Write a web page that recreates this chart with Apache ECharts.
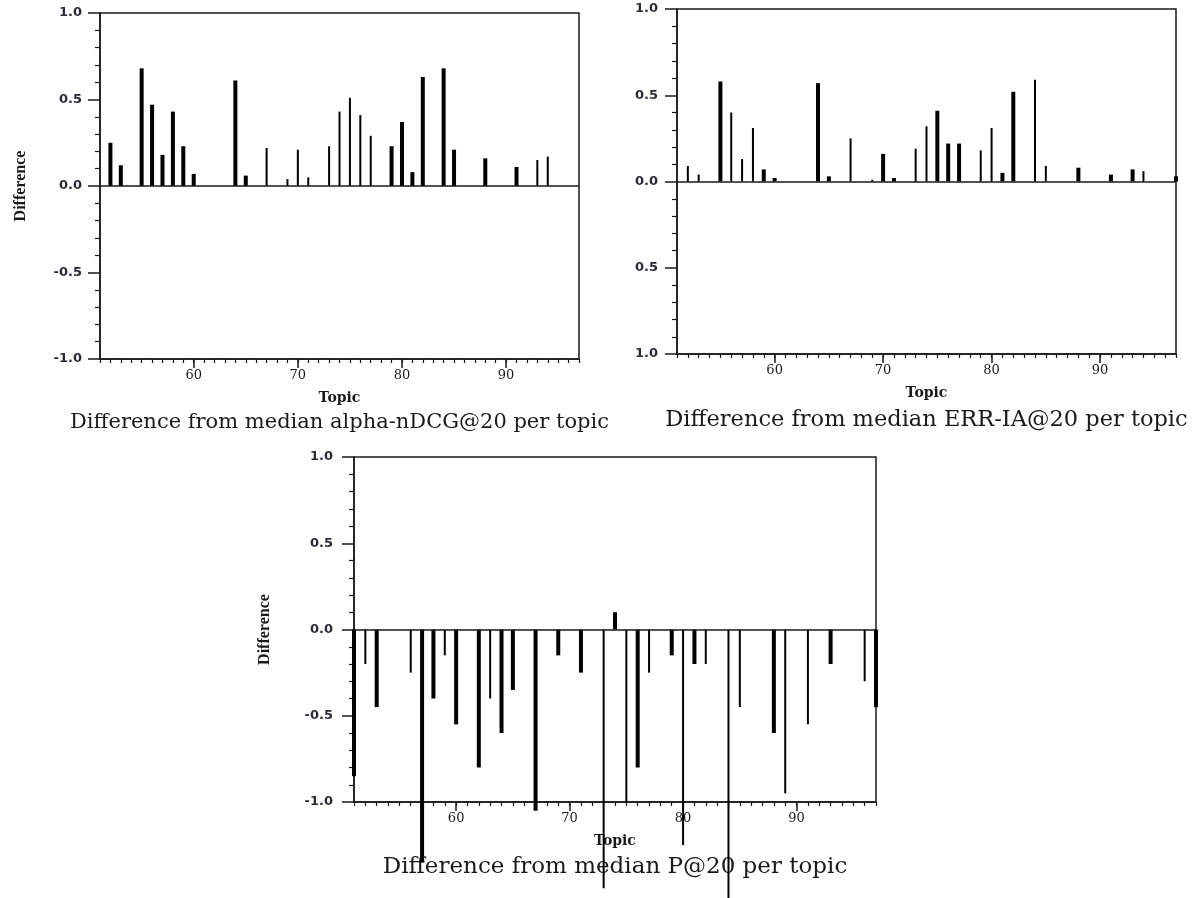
<!DOCTYPE html>
<html>
<head>
<meta charset="utf-8">
<title>Difference from median per topic</title>
<script src="https://cdn.jsdelivr.net/npm/echarts@6/dist/echarts.min.js"></script>
<style>
  html, body { margin: 0; padding: 0; background: #fff; }
  #chart { width: 1196px; height: 898px; }
</style>
</head>
<body>
<div id="chart"></div>
<script>
// Topic axis ticks
const topicMin = 51;
const topicMax = 97;
const majorTopicTicks = [60, 70, 80, 90];

// alpha-nDCG@20: difference from median per topic (two bar groups)
const alphaTopicsA = [52, 53, 55, 56, 57, 58, 59, 60, 64, 65, 79, 80, 81, 82, 84, 85, 88, 91];
const alphaDiffA   = [0.25, 0.12, 0.68, 0.47, 0.18, 0.43, 0.23, 0.07, 0.61, 0.06, 0.23, 0.37, 0.08, 0.63, 0.68, 0.21, 0.16, 0.11];
const alphaTopicsB = [67, 69, 70, 71, 73, 74, 75, 76, 77, 93, 94];
const alphaDiffB   = [0.22, 0.04, 0.21, 0.05, 0.23, 0.43, 0.51, 0.41, 0.29, 0.15, 0.17];

// ERR-IA@20: difference from median per topic
const errTopicsA = [55, 59, 60, 64, 65, 70, 71, 75, 76, 77, 81, 82, 88, 91, 93, 97];
const errDiffA   = [0.58, 0.07, 0.02, 0.57, 0.03, 0.16, 0.02, 0.41, 0.22, 0.22, 0.05, 0.52, 0.08, 0.04, 0.07, 0.03];
const errTopicsB = [52, 53, 56, 57, 58, 67, 69, 73, 74, 79, 80, 84, 85, 94];
const errDiffB   = [0.09, 0.04, 0.40, 0.13, 0.31, 0.25, 0.01, 0.19, 0.32, 0.18, 0.31, 0.59, 0.09, 0.06];

// P@20: difference from median per topic
const precTopicsA = [51, 53, 57, 58, 60, 62, 64, 65, 67, 69, 71, 74, 76, 79, 81, 88, 93, 97];
const precDiffA   = [-0.85, -0.45, -1.35, -0.40, -0.55, -0.80, -0.60, -0.35, -1.05, -0.15, -0.25, 0.10, -0.80, -0.15, -0.20, -0.60, -0.20, -0.45];
const precTopicsB = [52, 56, 59, 63, 73, 75, 77, 80, 82, 84, 85, 89, 91, 96];
const precDiffB   = [-0.20, -0.25, -0.15, -0.40, -1.50, -1.00, -0.25, -1.25, -0.20, -1.60, -0.45, -0.95, -0.55, -0.30];

const panelTitles = [
  'Difference from median alpha-nDCG@20 per topic',
  'Difference from median ERR-IA@20 per topic',
  'Difference from median P@20 per topic'
];

// panel geometry (pixels)
const panels = [
  { left: 100, top: 13,  width: 479, height: 346, titleY: 423, titleSize: 21,   yName: 'Difference', yNameGap: 71, labelMargin: 18, absLabels: false },
  { left: 677, top: 9,   width: 499, height: 345, titleY: 420, titleSize: 22.5, yName: '',           yNameGap: 0,  labelMargin: 19, absLabels: true },
  { left: 354, top: 457, width: 522, height: 345, titleY: 867, titleSize: 23,   yName: 'Difference', yNameGap: 81, labelMargin: 21, absLabels: false }
];

const ink = '#1a1a1a';
const axisLineStyle = { color: ink, width: 1.5 };

function pairs(topics, values) {
  return topics.map((t, i) => [t, values[i]]);
}

function barRenderer(barWidth) {
  return function (params, api) {
    const x = api.value(0);
    const y = api.value(1);
    const base = api.coord([x, 0]);
    const tip = api.coord([x, y]);
    return {
      type: 'rect',
      shape: {
        x: base[0] - barWidth / 2,
        y: Math.min(base[1], tip[1]),
        width: barWidth,
        height: Math.abs(tip[1] - base[1])
      },
      style: { fill: '#000' }
    };
  };
}

const grids = [], xAxes = [], yAxes = [], series = [], graphics = [];

const groups = [
  [pairs(alphaTopicsA, alphaDiffA), pairs(alphaTopicsB, alphaDiffB)],
  [pairs(errTopicsA, errDiffA), pairs(errTopicsB, errDiffB)],
  [pairs(precTopicsA, precDiffA), pairs(precTopicsB, precDiffB)]
];

panels.forEach((p, g) => {
  grids.push({
    left: p.left, top: p.top, width: p.width, height: p.height,
    show: true, borderColor: ink, borderWidth: 1.5, backgroundColor: 'transparent'
  });

  // minor topic ticks (every topic), carries the axis line
  xAxes.push({
    type: 'value', gridIndex: g, min: topicMin, max: topicMax, interval: 1,
    position: 'bottom',
    axisLine: { show: true, onZero: false, lineStyle: axisLineStyle },
    axisTick: { show: true, length: 4, lineStyle: { color: ink, width: 1.2 } },
    axisLabel: { show: false },
    splitLine: { show: false }
  });
  // major topic ticks with labels
  xAxes.push({
    type: 'value', gridIndex: g, min: topicMin, max: topicMax,
    position: 'bottom',
    axisLine: { show: false, onZero: false },
    axisTick: { show: true, customValues: majorTopicTicks, length: 9, lineStyle: { color: ink, width: 1.5 } },
    axisLabel: {
      customValues: majorTopicTicks, margin: 10,
      fontFamily: 'DejaVu Serif', fontSize: 13, color: ink
    },
    splitLine: { show: false },
    name: 'Topic', nameLocation: 'middle', nameGap: 32,
    nameTextStyle: { fontFamily: 'DejaVu Serif', fontWeight: 'bold', fontSize: 14, color: ink }
  });

  yAxes.push({
    type: 'value', gridIndex: g, min: -1, max: 1, interval: 0.5,
    axisLine: { show: true, onZero: false, lineStyle: axisLineStyle },
    axisTick: { show: true, length: 12, lineStyle: { color: ink, width: 1.5 } },
    minorTick: { show: true, splitNumber: 5, length: 5, lineStyle: { color: ink, width: 1.2 } },
    axisLabel: {
      margin: p.labelMargin,
      fontFamily: 'DejaVu Sans', fontWeight: 'bold', fontSize: 13, color: '#2a2a3a',
      formatter: p.absLabels ? (v) => Math.abs(v).toFixed(1) : (v) => v.toFixed(1)
    },
    splitLine: { show: false },
    minorSplitLine: { show: false },
    name: p.yName, nameLocation: 'middle', nameGap: p.yNameGap, nameRotate: 90,
    nameTextStyle: { fontFamily: 'Liberation Serif', fontWeight: 'bold', fontSize: 16, color: ink }
  });

  const xIdx = g * 2;
  series.push({
    type: 'custom', xAxisIndex: xIdx, yAxisIndex: g, clip: false,
    renderItem: barRenderer(4),
    encode: { x: 0, y: 1 },
    data: groups[g][0],
    markLine: {
      silent: true, symbol: 'none', label: { show: false },
      lineStyle: { color: ink, width: 1.5, type: 'solid' },
      data: [{ yAxis: 0 }]
    }
  });
  series.push({
    type: 'custom', xAxisIndex: xIdx, yAxisIndex: g, clip: false,
    renderItem: barRenderer(2),
    encode: { x: 0, y: 1 },
    data: groups[g][1]
  });

  graphics.push({
    type: 'text',
    x: p.left + p.width / 2, y: p.titleY,
    style: {
      text: panelTitles[g], align: 'center', verticalAlign: 'middle',
      fontFamily: 'DejaVu Serif', fontSize: p.titleSize, fill: ink
    }
  });
});

const chart = echarts.init(document.getElementById('chart'), null, { renderer: 'canvas' });
chart.setOption({
  animation: false,
  backgroundColor: '#fff',
  grid: grids,
  xAxis: xAxes,
  yAxis: yAxes,
  series: series,
  graphic: graphics
});
</script>
</body>
</html>
